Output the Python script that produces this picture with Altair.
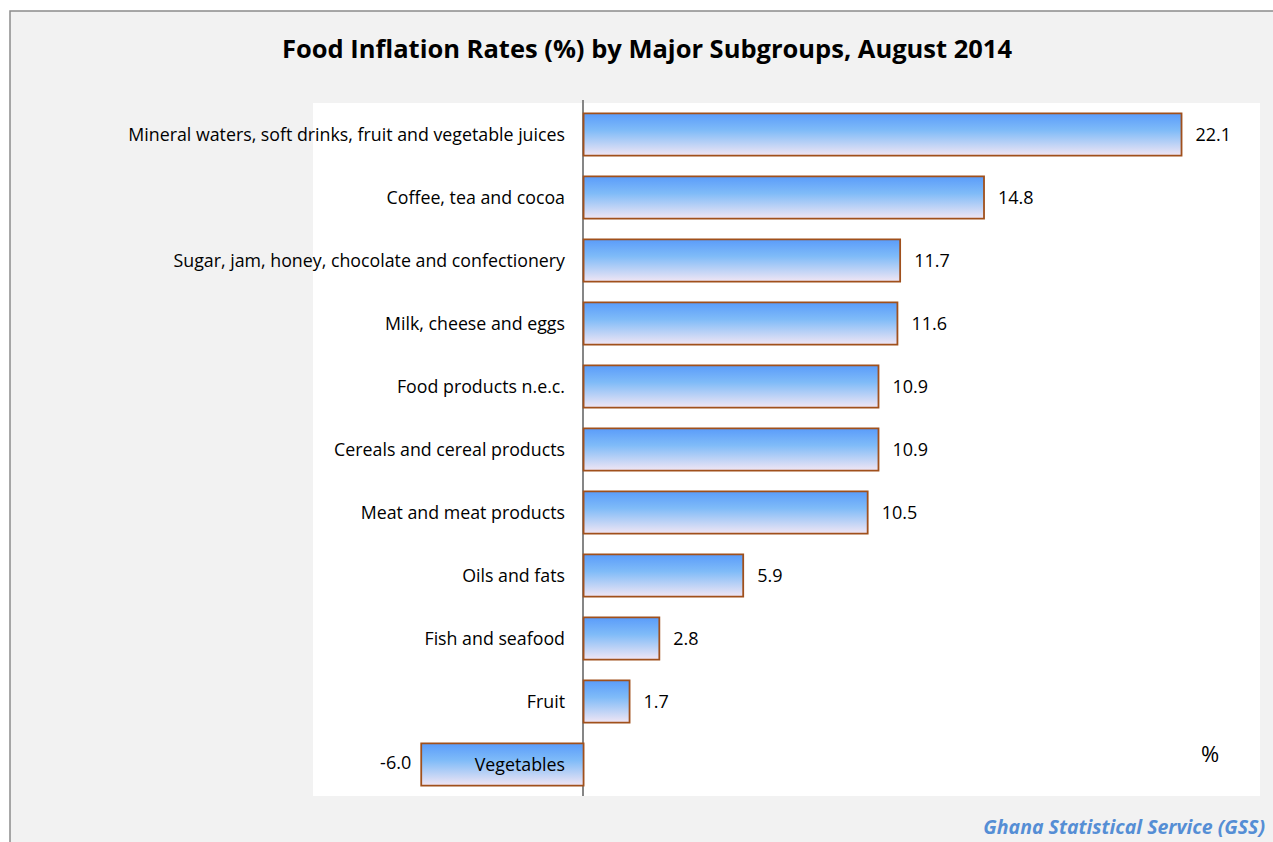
import altair as alt
import pandas as pd

categories = [
    "Mineral waters, soft drinks, fruit and vegetable juices",
    "Coffee, tea and cocoa",
    "Sugar, jam, honey, chocolate and confectionery",
    "Milk, cheese and eggs",
    "Food products n.e.c.",
    "Cereals and cereal products",
    "Meat and meat products",
    "Oils and fats",
    "Fish and seafood",
    "Fruit",
    "Vegetables",
]
values = [22.1, 14.8, 11.7, 11.6, 10.9, 10.9, 10.5, 5.9, 2.8, 1.7, -6.0]
title_text = "Food Inflation Rates (%) by  Major Subgroups, August 2014"
source_text = "Ghana Statistical Service (GSS)"

df = pd.DataFrame({"cat": categories, "val": values})
df["lbl"] = [f"{v:.1f}" for v in values]

FONT = "Open Sans"
W, H = 1273, 842
PX0, PX1 = 313, 1260
PY0, PY1 = 103, 796

xs = alt.Scale(domain=[-10, 25], range=[PX0, PX1])
ys = alt.Scale(domain=categories, range=[PY0, PY1], paddingInner=0.33, paddingOuter=0.165)
X = alt.X("val:Q", scale=xs, axis=None)
Y = alt.Y("cat:N", scale=ys, axis=None, sort=categories)

one = alt.Data(values=[{}])

frame = alt.Chart(one).mark_rect(fill="#f2f2f2", stroke="#8c8c8c", strokeWidth=1.5).encode(
    x=alt.value(10), x2=alt.value(1400), y=alt.value(11), y2=alt.value(1000)
)
plot_bg = alt.Chart(one).mark_rect(fill="white").encode(
    x=alt.value(PX0), x2=alt.value(PX1), y=alt.value(PY0), y2=alt.value(PY1)
)
axis_line = alt.Chart(one).mark_rule(color="#868686", strokeWidth=2).encode(
    x=alt.value(583), y=alt.value(100), y2=alt.value(PY1)
)

grad = alt.LinearGradient(
    gradient="linear", x1=0, x2=0, y1=0, y2=1,
    stops=[
        alt.GradientStop(color="#5a9cfa", offset=0),
        alt.GradientStop(color="#7fbbf8", offset=0.4),
        alt.GradientStop(color="#f1e6f4", offset=1),
    ],
)

base = alt.Chart(df)
bars = base.mark_bar(fill=grad, stroke="#a0501c", strokeWidth=1.8).encode(
    x=X, x2=alt.datum(0), y=Y
)

cat_lbl = base.mark_text(align="right", baseline="middle", dy=1.5, font=FONT, fontSize=17.8, color="#000000").encode(
    x=alt.value(565), y=Y, text="cat:N"
)
val_pos = base.transform_filter("datum.val >= 0").mark_text(
    align="left", baseline="middle", dx=14, dy=1.5, font=FONT, fontSize=18, color="#000000"
).encode(x=X, y=Y, text="lbl:N")
val_neg = base.transform_filter("datum.val < 0").mark_text(
    align="right", baseline="middle", dx=-10, dy=-1, font=FONT, fontSize=18, color="#000000"
).encode(x=X, y=Y, text="lbl:N")

title = alt.Chart(one).mark_text(
    align="center", baseline="middle", font=FONT, fontSize=25.5, fontWeight="bold", color="#000000"
).encode(x=alt.value(647), y=alt.value(50), text=alt.value(title_text))
pct = alt.Chart(one).mark_text(
    align="center", baseline="middle", font=FONT, fontSize=22, color="#000000"
).encode(x=alt.value(1210), y=alt.value(755), text=alt.value("%"))
source = alt.Chart(one).mark_text(
    align="right", baseline="middle", font=FONT, fontSize=19.5, fontWeight="bold", fontStyle="italic",
    color="#558ed5"
).encode(x=alt.value(1265), y=alt.value(828), text=alt.value(source_text))

chart = alt.layer(
    frame, plot_bg, axis_line, bars, cat_lbl, val_pos, val_neg, title, pct, source
).properties(
    width=W, height=H, padding=0, autosize=alt.AutoSizeParams(type="none"), background="#ffffff"
).configure_view(stroke=None)

chart.save("out.html", embed_options={"renderer": "svg", "actions": False})
